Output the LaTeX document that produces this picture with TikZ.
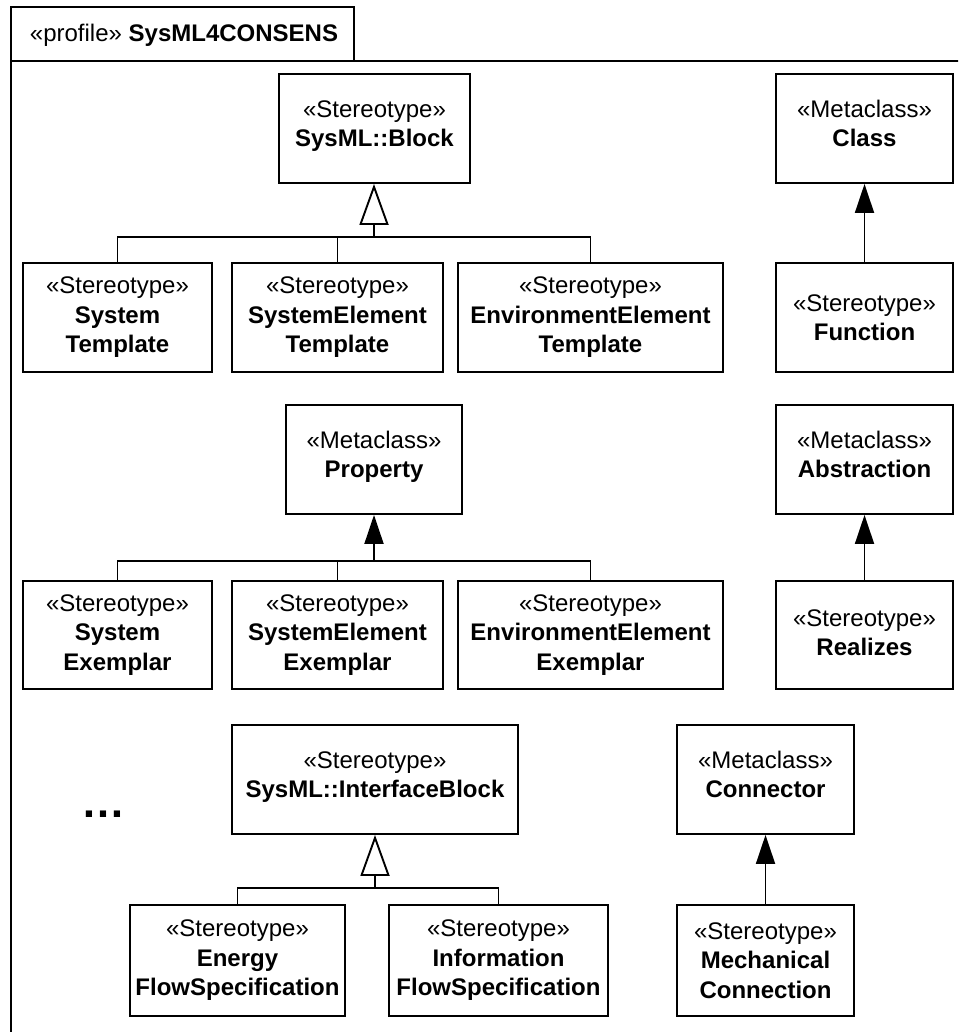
\documentclass[tikz,border=0pt]{standalone}
\usepackage{fontspec}
\setmainfont{Liberation Sans}
\usetikzlibrary{arrows.meta}

% \umlnode[options]{name}{x1}{y1}{x2}{y2}{text}
\newcommand\umlnode[7][]{%
  \node[box,#1,minimum width={#5-#3},minimum height={#6-#4}]
    (#2) at ({(#3+#5)/2},{(#4+#6)/2}) {#7};%
}

\begin{document}
\begin{tikzpicture}[x=1pt,y=-1pt,
  line width=1.9pt,
  box/.style={draw, line width=1.9pt, inner sep=0pt, align=center,
              font=\fontsize{24}{29.5}\selectfont},
  twoline/.style={text depth=10pt},
  conn/.style={line width=1.9pt},
  gen/.style={conn, -{Triangle[open,length=41pt,width=29pt,line width=1.9pt]}},
  ext/.style={conn, -{Triangle[length=29pt,width=19pt]}},
]
\useasboundingbox (0,0) rectangle (958,1032);
\clip (0,0) rectangle (958,1032);

% package frame with its name tab
\draw (11,7) rectangle (354,61);
\draw (980,61) -- (11,61) -- (11,1050);
\node[anchor=west, inner sep=0pt, font=\fontsize{24}{29.5}\selectfont] (tab) at (29,35)
  {«profile» \textbf{SysML4CONSENS}};

% first group: blocks
\umlnode[twoline]{blk}{279}{74}{470}{183}{«Stereotype»\\\textbf{SysML::Block}}
\umlnode{st}{23}{263}{212}{372}{«Stereotype»\\\textbf{System}\\\textbf{Template}}
\umlnode{set}{232}{263}{443}{372}{«Stereotype»\\\textbf{SystemElement}\\\textbf{Template}}
\umlnode{eet}{458}{263}{723}{372}{«Stereotype»\\\textbf{EnvironmentElement}\\\textbf{Template}}

% right column
\umlnode[twoline]{cls}{776}{74}{953}{183}{«Metaclass»\\\textbf{Class}}
\umlnode{fun}{776}{263}{953}{372}{«Stereotype»\\\textbf{Function}}
\umlnode[twoline]{abs}{776}{405}{953}{514}{«Metaclass»\\\textbf{Abstraction}}
\umlnode[text depth=5pt]{rea}{776}{581}{953}{689}{«Stereotype»\\\textbf{Realizes}}

% second group: properties
\umlnode[twoline]{prop}{286}{405}{462}{514}{«Metaclass»\\\textbf{Property}}
\umlnode{sx}{23}{581}{212}{689}{«Stereotype»\\\textbf{System}\\\textbf{Exemplar}}
\umlnode{sex}{232}{581}{443}{689}{«Stereotype»\\\textbf{SystemElement}\\\textbf{Exemplar}}
\umlnode{eex}{458}{581}{723}{689}{«Stereotype»\\\textbf{EnvironmentElement}\\\textbf{Exemplar}}

% third group: interfaces and connectors
\umlnode[twoline]{ib}{232}{725}{518}{834}{«Stereotype»\\\textbf{SysML::InterfaceBlock}}
\umlnode[twoline]{con}{677}{725}{854}{834}{«Metaclass»\\\textbf{Connector}}
\umlnode{en}{130}{905}{345}{1016}{«Stereotype»\\\textbf{Energy}\\\textbf{FlowSpecification}}
\umlnode{inf}{389}{905}{608}{1016}{«Stereotype»\\\textbf{Information}\\\textbf{FlowSpecification}}
\umlnode{mec}{677}{905}{854}{1016}{«Stereotype»\\\textbf{Mechanical}\\\textbf{Connection}}

\node[anchor=base, inner sep=0pt, font=\fontsize{44}{44}\selectfont\bfseries] (more) at (103,817) {…};

% generalizations of SysML::Block
\coordinate (bT) at (374,237);
\draw[conn] (st.north) |- (bT) -| (eet.north);
\draw[conn] (set.north) -- (set.north |- bT);
\draw[gen] (bT) -- (bT |- blk.south);

% extensions of Property
\coordinate (bP) at (374,561);
\draw[conn] (sx.north) |- (bP) -| (eex.north);
\draw[conn] (sex.north) -- (sex.north |- bP);
\draw[ext] (bP) -- (bP |- prop.south);

% generalizations of SysML::InterfaceBlock
\coordinate (bI) at (375,888);
\draw[conn] (en.north) |- (bI) -| (inf.north);
\draw[gen] (bI) -- (bI |- ib.south);

% extensions in the right column
\draw[ext] (fun.north) -- (cls.south);
\draw[ext] (rea.north) -- (abs.south);
\draw[ext] (mec.north) -- (con.south);
\end{tikzpicture}
\end{document}
